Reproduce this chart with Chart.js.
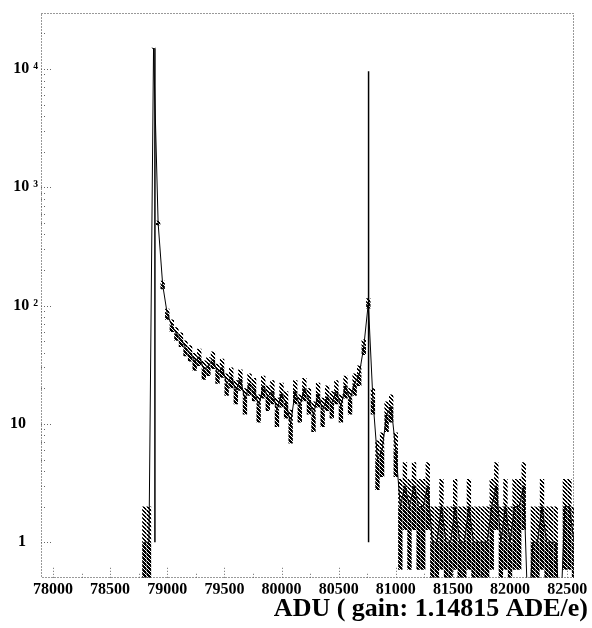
<!DOCTYPE html>
<html><head><meta charset="utf-8">
<script src="https://cdn.jsdelivr.net/npm/chart.js@4.4.1/dist/chart.umd.min.js"></script>
<style>html,body{margin:0;padding:0;background:#fff;}canvas{display:block}</style>
</head><body>
<canvas id="c" width="592" height="628"></canvas>
<script>
// ---- data (histogram, 40 ADU bins) ----
const binStart = 78800;
const binWidth = 40;
const counts = [
  1, 1, 15000, 500, 150, 85, 68, 58, 52, 44,
  40, 34, 37, 29, 31, 35, 27, 30, 22, 25,
  19, 24, 16, 22, 20, 14, 21, 17, 19, 13,
  18, 15, 10, 19, 14, 20, 16, 12, 18, 13,
  17, 15, 19, 14, 21, 16, 22, 26, 45, 105,
  16, 5, 6, 12, 14, 6, 2, 3, 2, 3,
  2, 2, 3, 1, 1, 2, 1, 1, 2, 1,
  1, 2, 1, 1, 1, 1, 2, 3, 1, 2,
  1, 2, 2, 3, 0, 1, 1, 2, 1, 1,
  1, 0, 2, 2, 1
];
const spikePositions = [78892, 80762];
const spikeTops = [15000, 9600];
const spikeBottoms = [1, 1];
const xTickValues = [78000, 78500, 79000, 79500, 80000, 80500, 81000, 81500, 82000, 82500];
const yTickValues = [1, 10, 100, 1000, 10000];
const yTickLabels = ["1   ", "10   ", "10 \u00b2", "10 \u00b3", "10 \u2074"];
const xTitle = "ADU ( gain: 1.14815 ADE/e)";

const canvas = document.getElementById('c');
const mainCtx = canvas.getContext('2d');
function makePattern(on) {
  const c = document.createElement('canvas');
  c.width = 4; c.height = 4;
  const g = c.getContext('2d');
  g.fillStyle = '#000';
  for (let yy = 0; yy < 4; yy++) for (let xx = 0; xx < 4; xx++) {
    if (on.includes(((xx - yy) % 4 + 4) % 4)) g.fillRect(xx, yy, 1, 1);
  }
  return mainCtx.createPattern(c, 'repeat');
}
const hatchLight = makePattern([0, 1]);
const hatchDark = makePattern([0, 1, 2]);

const centers = counts.map((_, i) => binStart + binWidth * i);
const linePts = counts.map((v, i) => ({x: centers[i], y: Math.max(v, 0.2)}));
const upperErr = [], lowerErr = [];
counts.forEach((v, i) => {
  if (v > 0) {
    const e = Math.sqrt(v);
    upperErr.push({x: centers[i], y: [v, v + e]});
    lowerErr.push({x: centers[i], y: [Math.max(v - e, 0.2), v]});
  }
});
const spikePts = [];
spikePositions.forEach((p, i) => {
  spikePts.push({x: p, y: spikeBottoms[i]}, {x: p, y: spikeTops[i]}, {x: p, y: null});
});

const framePlugin = {
  id: 'frame',
  afterDraw(chart) {
    const {ctx, chartArea: a, scales} = chart;
    const xs = scales.x, ys = scales.y;
    ctx.save();
    ctx.strokeStyle = '#333';
    ctx.lineWidth = 1;
    ctx.setLineDash([1, 2]);
    ctx.strokeRect(Math.round(a.left) + 0.5, Math.round(a.top) + 0.5,
      Math.round(a.right - a.left) - 1, Math.round(a.bottom - a.top) - 1);
    ctx.strokeStyle = '#666';
    const seg = (x1, y1, x2, y2) => { ctx.beginPath(); ctx.moveTo(x1, y1); ctx.lineTo(x2, y2); ctx.stroke(); };
    xTickValues.forEach((v, i) => {
      const px = Math.round(xs.getPixelForValue(v)) + 0.5;
      seg(px, a.bottom, px, a.bottom - 10);
      const mid = v + (xTickValues[1] - xTickValues[0]) / 2;
      if (mid < xs.max) {
        const pm = Math.round(xs.getPixelForValue(mid)) + 0.5;
        seg(pm, a.bottom, pm, a.bottom - 5);
      }
    });
    yTickValues.forEach(v => {
      const py = Math.round(ys.getPixelForValue(v)) + 0.5;
      seg(a.left, py, a.left + 10, py);
      for (let k = 2; k <= 9; k++) {
        const mv = v * k;
        if (mv < ys.max) {
          const pm = Math.round(ys.getPixelForValue(mv)) + 0.5;
          seg(a.left, pm, a.left + 4, pm);
        }
      }
    });
    ctx.restore();
  }
};

new Chart(canvas, {
  type: 'bar',
  data: {
    datasets: [
      {type: 'line', data: linePts, borderColor: '#000', borderWidth: 1, pointRadius: 0, tension: 0, fill: false},
      {type: 'line', data: spikePts, borderColor: '#000', borderWidth: 1.5, pointRadius: 0, tension: 0, fill: false, spanGaps: false},
      {type: 'bar', data: lowerErr, backgroundColor: hatchDark, barPercentage: 0.95, categoryPercentage: 1, grouped: false},
      {type: 'bar', data: upperErr, backgroundColor: hatchLight, barPercentage: 0.95, categoryPercentage: 1, grouped: false}
    ]
  },
  options: {
    responsive: false,
    animation: false,
    devicePixelRatio: 1,
    layout: {padding: {left: 0, right: 4, top: 8, bottom: 0}},
    plugins: {
      legend: {display: false},
      tooltip: {enabled: false},
      title: {
        display: true, position: 'bottom', align: 'end', text: xTitle, color: '#000',
        font: {family: 'Liberation Serif', size: 26, weight: 'bold'},
        padding: {top: 0, bottom: 3}
      }
    },
    scales: {
      x: {
        type: 'linear', min: 77895, max: 82560, offset: false,
        grid: {display: false, drawTicks: false},
        border: {display: false},
        afterBuildTicks: s => { s.ticks = xTickValues.map(v => ({value: v})); },
        afterFit: s => { s.height = 16; },
        ticks: {
          color: '#000', padding: 2, maxRotation: 0, autoSkip: false,
          font: {family: 'Liberation Serif', size: 16, weight: 'bold'},
          callback: v => String(v)
        }
      },
      y: {
        type: 'logarithmic', min: 0.5, max: 30000,
        grid: {display: false, drawTicks: false},
        border: {display: false},
        afterBuildTicks: s => { s.ticks = yTickValues.map(v => ({value: v})); },
        afterFit: s => { s.width = 41; },
        ticks: {
          color: '#000', padding: 3, autoSkip: false,
          font: {family: 'Liberation Serif', size: 16, weight: 'bold'},
          callback: (v) => { const i = yTickValues.indexOf(v); return i >= 0 ? yTickLabels[i] : ''; }
        }
      },
      yR: {
        type: 'linear', position: 'right', display: true,
        grid: {display: false, drawTicks: false}, border: {display: false},
        ticks: {display: false},
        afterFit: s => { s.width = 14; }
      }
    }
  },
  plugins: [framePlugin]
});
</script>
</body></html>
